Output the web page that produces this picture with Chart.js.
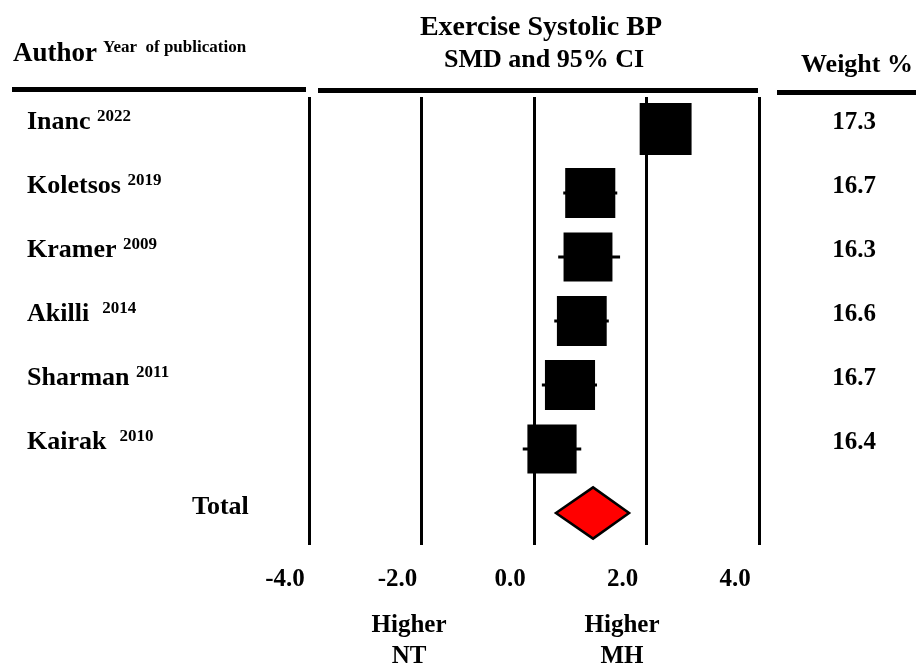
<!DOCTYPE html>
<html>
<head>
<meta charset="utf-8">
<script src="https://cdn.jsdelivr.net/npm/chart.js@4/dist/chart.umd.min.js"></script>
<style>
  html, body { margin: 0; padding: 0; background: #ffffff; }
  #wrap { position: relative; width: 916px; height: 665px; }
</style>
</head>
<body>
<div id="wrap"><canvas id="forest" width="916" height="665"></canvas></div>
<script>
// Studies (top to bottom)
const authors = ['Inanc', 'Koletsos', 'Kramer', 'Akilli ', 'Sharman', 'Kairak '];
const years = ['2022', '2019', '2009', '2014', '2011', '2010'];
// Standardised mean difference with 95% CI
const smd = [2.34, 1.00, 0.96, 0.85, 0.64, 0.32];
const ciLow = [1.92, 0.52, 0.43, 0.36, 0.14, -0.20];
const ciHigh = [2.76, 1.48, 1.53, 1.33, 1.12, 0.84];
const weights = [17.3, 16.7, 16.3, 16.6, 16.7, 16.4];
// Pooled estimate
const totalSmd = 1.05;
const totalLow = 0.39;
const totalHigh = 1.69;
// Axis ticks
const xTicks = [-4, -2, 0, 2, 4];

const SERIF = '"Liberation Serif", "Times New Roman", serif';
const font = (size) => `bold ${size}px ${SERIF}`;

// whiskers under the study squares
const whiskerPlugin = {
  id: 'whiskers',
  beforeDatasetsDraw(chart) {
    const { ctx, scales: { x, y } } = chart;
    ctx.save();
    ctx.strokeStyle = '#000';
    ctx.lineWidth = 3;
    ciLow.forEach((lo, i) => {
      const py = y.getPixelForValue(i);
      ctx.beginPath();
      ctx.moveTo(x.getPixelForValue(lo), py);
      ctx.lineTo(x.getPixelForValue(ciHigh[i]), py);
      ctx.stroke();
    });
    ctx.restore();
  }
};

// pooled diamond, header, labels, weights
const decorPlugin = {
  id: 'decor',
  afterDatasetsDraw(chart) {
    const { ctx, scales: { x, y } } = chart;
    const row = authors.length;
    const cy = y.getPixelForValue(row);
    const half = Math.abs(y.getPixelForValue(row + 0.4) - cy);
    ctx.save();
    ctx.beginPath();
    ctx.moveTo(x.getPixelForValue(totalLow), cy);
    ctx.lineTo(x.getPixelForValue(totalSmd), cy - half);
    ctx.lineTo(x.getPixelForValue(totalHigh), cy);
    ctx.lineTo(x.getPixelForValue(totalSmd), cy + half);
    ctx.closePath();
    ctx.fillStyle = '#ff0000';
    ctx.fill();
    ctx.lineWidth = 2.5;
    ctx.strokeStyle = '#000';
    ctx.lineJoin = 'miter';
    ctx.stroke();
    ctx.restore();
  },
  afterDraw(chart) {
    const { ctx, scales: { y } } = chart;
    ctx.save();
    ctx.fillStyle = '#000';
    ctx.textBaseline = 'alphabetic';

    // header
    ctx.textAlign = 'left';
    ctx.font = font(27);
    ctx.fillText('Author', 13, 61);
    ctx.font = font(17);
    ctx.fillText('Year  of publication', 103, 52);

    ctx.textAlign = 'center';
    ctx.font = font(28);
    ctx.fillText('Exercise Systolic BP', 541, 35);
    ctx.font = font(26);
    ctx.fillText('SMD and 95% CI', 544, 67);
    ctx.fillText('Weight %', 857, 72);

    // header rules
    ctx.fillRect(12, 87, 294, 5);
    ctx.fillRect(318, 88, 440, 5);
    ctx.fillRect(777, 90, 139, 5);

    // study rows
    authors.forEach((name, i) => {
      const py = y.getPixelForValue(i);
      ctx.textAlign = 'left';
      ctx.font = font(26);
      ctx.fillText(name, 27, py);
      const w = ctx.measureText(name + ' ').width;
      ctx.font = font(17);
      ctx.fillText(years[i], 27 + w, py - 8);
      ctx.textAlign = 'center';
      ctx.font = font(25);
      ctx.fillText(weights[i].toFixed(1), 854, py);
    });

    ctx.textAlign = 'left';
    ctx.font = font(26);
    ctx.fillText('Total', 192, y.getPixelForValue(authors.length) + 1);

    // direction labels
    ctx.textAlign = 'center';
    ctx.font = font(25);
    ctx.fillText('Higher', 409, 632);
    ctx.fillText('NT', 409, 663);
    ctx.fillText('Higher', 622, 632);
    ctx.fillText('MH', 622, 663);
    ctx.restore();
  }
};

new Chart(document.getElementById('forest'), {
  type: 'scatter',
  data: {
    datasets: [{
      label: 'SMD',
      data: smd.map((v, i) => ({ x: v, y: i })),
      pointStyle: 'rect',
      pointRadius: weights.map(w => (w * 3) / (2 * Math.SQRT1_2)),
      backgroundColor: '#000',
      borderWidth: 0
    }]
  },
  options: {
    responsive: false,
    animation: false,
    events: [],
    layout: { padding: { left: 309, right: 157, top: 97, bottom: 0 } },
    plugins: { legend: { display: false }, tooltip: { enabled: false } },
    scales: {
      x: {
        type: 'linear',
        min: -4,
        max: 4,
        afterBuildTicks: (s) => { s.ticks = xTicks.map(v => ({ value: v })); },
        afterFit: (s) => { s.height = 120; },
        grid: { color: '#000', lineWidth: 3, drawTicks: false },
        border: { display: false },
        ticks: {
          color: '#000',
          font: { family: SERIF, size: 25, weight: 'bold' },
          padding: 20,
          labelOffset: -24,
          maxRotation: 0,
          callback: (v) => Number(v).toFixed(1)
        }
      },
      y: {
        type: 'linear',
        display: false,
        reverse: true,
        min: -0.5,
        max: 6.5
      }
    }
  },
  plugins: [whiskerPlugin, decorPlugin]
});
</script>
</body>
</html>
